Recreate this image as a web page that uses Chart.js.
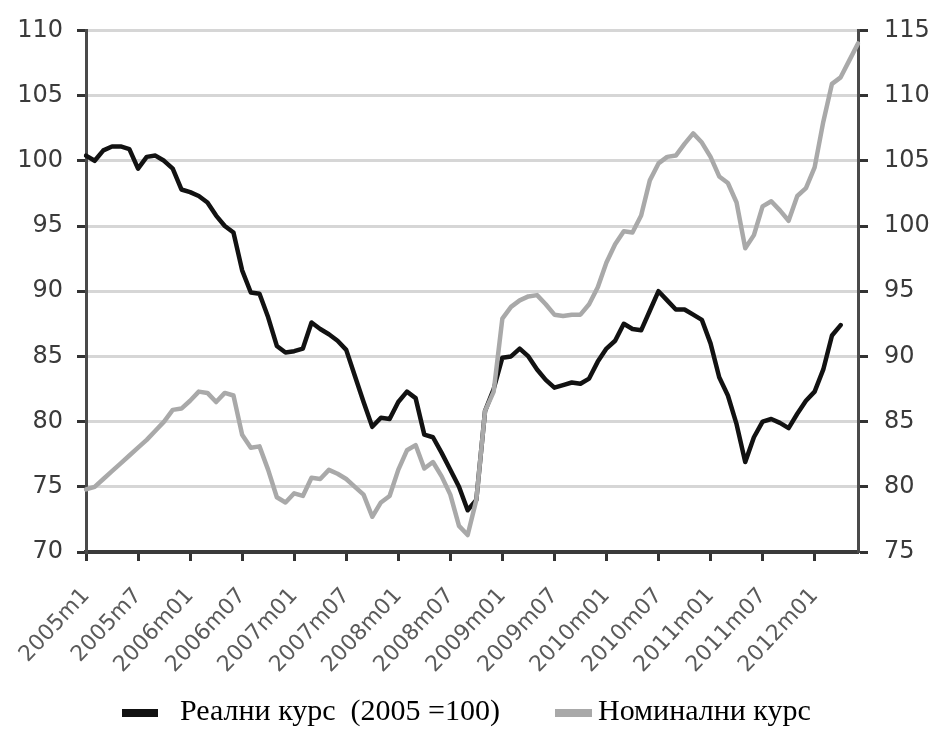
<!DOCTYPE html>
<html>
<head>
<meta charset="utf-8">
<script src="https://cdn.jsdelivr.net/npm/chart.js@4.4.1/dist/chart.umd.min.js"></script>
<style>
  body { margin: 0; background: #fff; }
  #wrap { position: relative; width: 933px; height: 752px; }
  .legend { position: absolute; top: 693px; font-family: "Liberation Serif", "Times New Roman", serif; font-size: 30px; color: #000; white-space: pre; }
  .sw { position: absolute; top: 709px; height: 8px; }
</style>
</head>
<body>
<div id="wrap">
  <canvas id="myChart" width="933" height="752"></canvas>
  <div class="sw" style="left:122px;width:36px;background:#121212"></div>
  <div class="legend" style="left:180px">Реални курс  (2005 =100)</div>
  <div class="sw" style="left:555px;width:37px;background:#a9a9a9"></div>
  <div class="legend" style="left:598px">Номинални курс</div>
</div>
<script>
// monthly, 2005m1 .. 2012m06
const xTickLabels = [
  "2005m1", "2005m7", "2006m01", "2006m07", "2007m01", "2007m07", "2008m01", "2008m07",
  "2009m01", "2009m07", "2010m01", "2010m07", "2011m01", "2011m07", "2012m01",
];

// real exchange rate (2005 = 100), left axis
const realniKurs = [
  100.4, 100.0, 100.8, 101.1, 101.1, 100.9, 99.4, 100.3, 100.4, 100.0,
  99.4, 97.8, 97.6, 97.3, 96.8, 95.8, 95.0, 94.5, 91.6, 89.9,
  89.8, 88.0, 85.8, 85.3, 85.4, 85.6, 87.6, 87.1, 86.7, 86.2,
  85.5, 83.5, 81.5, 79.6, 80.3, 80.2, 81.5, 82.3, 81.8, 79.0,
  78.8, 77.6, 76.3, 75.0, 73.2, 74.0, 80.8, 82.5, 84.9, 85.0,
  85.6, 85.0, 84.0, 83.2, 82.6, 82.8, 83.0, 82.9, 83.3, 84.6,
  85.6, 86.2, 87.5, 87.1, 87.0, 88.5, 90.0, 89.3, 88.6, 88.6,
  88.2, 87.8, 86.0, 83.4, 82.0, 79.8, 76.9, 78.8, 80.0, 80.2,
  79.9, 79.5, 80.6, 81.6, 82.3, 84.0, 86.6, 87.4,
];

// nominal exchange rate, right axis
const nominalniKurs = [
  79.8, 80.0, 80.6, 81.2, 81.8, 82.4, 83.0, 83.6, 84.3, 85.0,
  85.9, 86.0, 86.6, 87.3, 87.2, 86.5, 87.2, 87.0, 84.0, 83.0,
  83.1, 81.3, 79.2, 78.8, 79.5, 79.3, 80.7, 80.6, 81.3, 81.0,
  80.6, 80.0, 79.4, 77.7, 78.8, 79.3, 81.3, 82.8, 83.2, 81.4,
  81.9, 80.8, 79.4, 77.0, 76.3, 79.0, 85.8, 87.3, 92.9, 93.8,
  94.3, 94.6, 94.7, 94.0, 93.2, 93.1, 93.2, 93.2, 94.0, 95.3,
  97.2, 98.6, 99.6, 99.5, 100.8, 103.5, 104.8, 105.3, 105.4, 106.3,
  107.1, 106.4, 105.3, 103.8, 103.3, 101.8, 98.3, 99.3, 101.5, 101.9,
  101.2, 100.4, 102.3, 102.9, 104.5, 108.0, 110.9, 111.4, 112.7, 114.0,
];

const months = [];
for (let i = 0; i < nominalniKurs.length; i++) {
  const y = 2005 + Math.floor(i / 12);
  const m = (i % 12) + 1;
  months.push(y + "m" + (m < 10 ? "0" + m : m));
}

const axisFont = { family: "DejaVu Sans", size: 24 };

const ctx = document.getElementById("myChart").getContext("2d");
new Chart(ctx, {
  type: "line",
  data: {
    labels: months,
    datasets: [
      {
        label: "Реални курс  (2005 =100)",
        data: realniKurs,
        yAxisID: "y",
        borderColor: "#121212",
        borderWidth: 4.5,
        order: 2,
      },
      {
        label: "Номинални курс",
        data: nominalniKurs,
        yAxisID: "y1",
        borderColor: "#a9a9a9",
        borderWidth: 4.5,
        order: 1,
      },
    ],
  },
  options: {
    responsive: false,
    animation: false,
    layout: { padding: { top: 30 } },
    elements: {
      point: { radius: 0 },
      line: { tension: 0, borderJoinStyle: "round", borderCapStyle: "round" },
    },
    plugins: {
      legend: { display: false },
      tooltip: { enabled: false },
    },
    scales: {
      x: {
        afterFit: (scale) => { scale.height = 200; },
        grid: {
          drawOnChartArea: false,
          tickLength: 9,
          tickWidth: 3,
          tickColor: (c) => (c.index % 6 === 0 ? "#333" : "rgba(0,0,0,0)"),
        },
        border: { color: "#3a3a3a", width: 4 },
        ticks: {
          autoSkip: false,
          minRotation: 47,
          maxRotation: 47,
          padding: 22,
          color: "#5a5a5a",
          font: { family: "DejaVu Sans", size: 22 },
          callback: (val, idx) => (idx % 6 === 0 ? xTickLabels[idx / 6] : ""),
        },
      },
      y: {
        position: "left",
        min: 70,
        max: 110,
        afterFit: (scale) => { scale.width = 86; },
        grid: {
          color: "#d6d6d6",
          lineWidth: 3,
          tickLength: 9,
          tickWidth: 3,
          tickColor: "#333",
        },
        border: { color: "#4a4a4a", width: 3 },
        ticks: { stepSize: 5, padding: 14, color: "#3a3a3a", font: axisFont },
      },
      y1: {
        position: "right",
        min: 75,
        max: 115,
        afterFit: (scale) => { scale.width = 75; },
        grid: {
          drawOnChartArea: false,
          tickLength: 10,
          tickWidth: 3,
          tickColor: "#333",
        },
        border: { color: "#4a4a4a", width: 3 },
        ticks: { stepSize: 5, padding: 16, color: "#3a3a3a", font: axisFont },
      },
    },
  },
});
</script>
</body>
</html>
